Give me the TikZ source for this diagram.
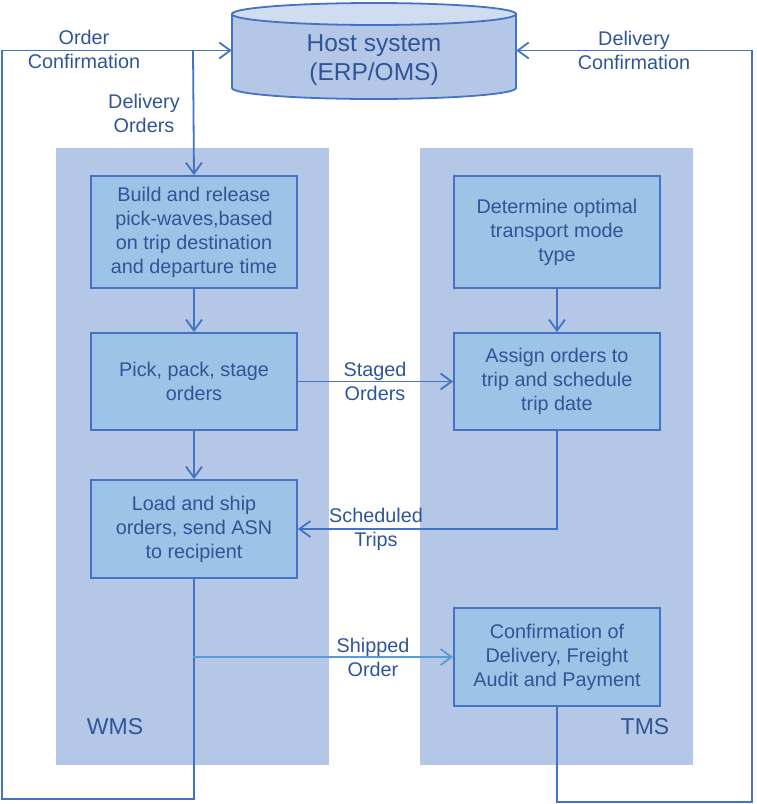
\documentclass[tikz,border=0pt]{standalone}
\usepackage{fontspec}
\setmainfont{Liberation Sans}
\usetikzlibrary{arrows.meta}
\definecolor{lineblue}{HTML}{4472C4}
\definecolor{shipblue}{HTML}{5B9BD5}
\definecolor{textblue}{HTML}{2F5597}
\definecolor{panelfill}{HTML}{B4C7E7}
\definecolor{boxfill}{HTML}{9DC3E6}
\definecolor{cyltop}{HTML}{D0DCEF}
\tikzset{
  conn/.style={draw=lineblue, line width=1.8pt},
  arr/.style={conn, -{Straight Barb[length=11pt,width=16pt,line width=1.8pt]}},
  procbox/.style={draw=lineblue, line width=1.8pt, fill=boxfill, minimum width=206pt,
    align=center, text=textblue, font=\fontsize{19.8}{24}\selectfont, inner sep=0pt},
  lbl/.style={align=center, text=textblue, font=\fontsize{19.8}{24}\selectfont, inner sep=0pt},
  panellbl/.style={text=textblue, font=\fontsize{23}{27}\selectfont, inner sep=0pt}
}
\begin{document}
\begin{tikzpicture}[x=1pt,y=-1pt]
\useasboundingbox (0,0) rectangle (756,804);
% panels
\fill[panelfill] (56,148) rectangle (329,765);
\fill[panelfill] (420,148) rectangle (693,765);
\node[panellbl] (wms) at (115,727) {WMS};
\node[panellbl] (tms) at (645,727) {TMS};
% host cylinder
\node[minimum width=284pt, minimum height=95pt, inner sep=0pt] (host) at (374,50.5) {};
\filldraw[draw=lineblue, fill=panelfill, line width=1.8pt]
  (232,14) -- (232,88) arc[start angle=180,end angle=360,x radius=142pt,y radius=11pt] -- (516,14) -- cycle;
\filldraw[draw=lineblue, fill=cyltop, line width=1.8pt] (374,14) ellipse[x radius=142pt, y radius=11pt];
\node[lbl, font=\fontsize{24.5}{29}\selectfont] (hosttxt) at (374,60.5) {Host system\\(ERP/OMS)};
% process boxes
\node[procbox, minimum height=112pt] (build) at (194,232) {Build and release\\pick-waves,based\\on trip destination\\and departure time};
\node[procbox, minimum height=97pt] (pick) at (194,381.5) {Pick, pack, stage\\orders};
\node[procbox, minimum height=98pt] (load) at (194,529) {Load and ship\\orders, send ASN\\to recipient};
\node[procbox, minimum height=112pt] (determine) at (557,232) {Determine optimal\\transport mode\\type};
\node[procbox, minimum height=97pt] (assign) at (557,381.5) {Assign orders to\\trip and schedule\\trip date};
\node[procbox, minimum height=98pt] (conf) at (557,657) {Confirmation of\\Delivery, Freight\\Audit and Payment};
% coordinates
\coordinate (ocBL) at (2,799);
\coordinate (dcBR) at (752,802);
\coordinate (doStart) at (193,50.5);
\coordinate (shipStart) at (193,657);
% connectors
\draw[arr] (load.south) |- (ocBL) |- (host.west);
\draw[arr] (doStart) -- (build.north);
\draw[arr] (conf.south) |- (dcBR) |- (host.east);
\draw[arr] (build.south) -- (pick.north);
\draw[arr] (pick.south) -- (load.north);
\draw[arr] (determine.south) -- (assign.north);
\draw[arr] (pick.east) -- (assign.west);
\draw[arr] (assign.south) |- (load.east);
\draw[arr, draw=shipblue] (shipStart) -- (conf.west);
% labels
\node[lbl] (ocl) at (84,49) {Order\\Confirmation};
\node[lbl] (dol) at (144,113) {Delivery\\Orders};
\node[lbl] (dcl) at (634,50) {Delivery\\Confirmation};
\node[lbl] (sol) at (375,381) {Staged\\Orders};
\node[lbl] (stl) at (376,529) {Scheduled\\Trips};
\node[lbl] (shl) at (373,657) {Shipped\\Order};
\end{tikzpicture}
\end{document}
